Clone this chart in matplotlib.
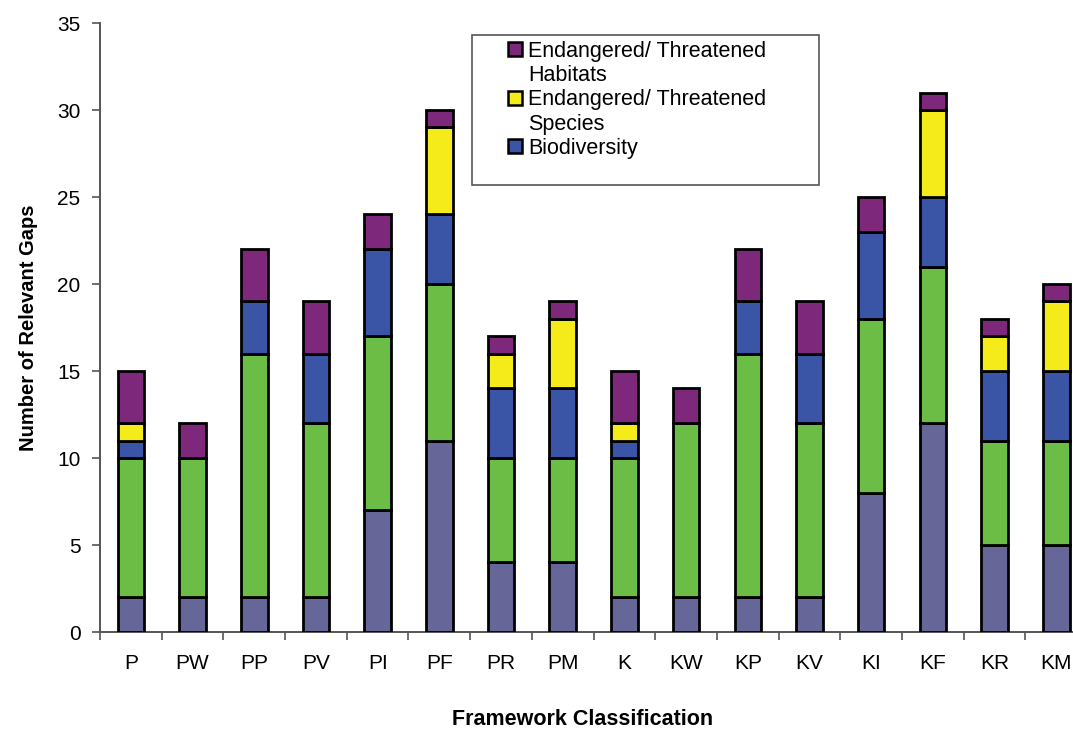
import matplotlib.pyplot as plt
import numpy as np
from matplotlib.patches import Patch, Rectangle

plt.rcParams["font.family"] = ["Liberation Sans", "DejaVu Sans"]

# framework categories
labels = ['P', 'PW', 'PP', 'PV', 'PI', 'PF', 'PR', 'PM',
          'K', 'KW', 'KP', 'KV', 'KI', 'KF', 'KR', 'KM']

# segment heights, bottom to top
base = [2, 2, 2, 2, 7, 11, 4, 4, 2, 2, 2, 2, 8, 12, 5, 5]
other = [8, 8, 14, 10, 10, 9, 6, 6, 8, 10, 14, 10, 10, 9, 6, 6]
biodiversity = [1, 0, 3, 4, 5, 4, 4, 4, 1, 0, 3, 4, 5, 4, 4, 4]
species = [1, 0, 0, 0, 0, 5, 2, 4, 1, 0, 0, 0, 0, 5, 2, 4]
habitats = [3, 2, 3, 3, 2, 1, 1, 1, 3, 2, 3, 3, 2, 1, 1, 1]

colors = ['#666699', '#6BBD45', '#3A55A6', '#F5EA1A', '#7D287A']
series = [base, other, biodiversity, species, habitats]

fig = plt.figure(figsize=(10.73, 7.31), dpi=100)
ax = fig.add_axes([0.0932, 0.1354, 0.92, 0.833])

x = np.arange(len(labels))
bottom = np.zeros(len(labels))
for vals, c in zip(series, colors):
    vals = np.array(vals)
    ax.bar(x, vals, width=0.43, bottom=bottom, color=c,
           edgecolor='black', linewidth=2.0, zorder=3)
    bottom += vals

ax.set_xlim(-0.5, len(labels) - 0.5)
ax.set_ylim(0, 35)
ax.set_yticks(range(0, 36, 5))
ax.set_xticks(x)
ax.set_xticklabels(labels)
ax.set_xticks(np.arange(-0.5, len(labels), 1), minor=True)
ax.tick_params(axis='x', which='major', length=0, pad=16, labelsize=15)
ax.tick_params(axis='x', which='minor', length=6, width=1.2, color='#555555')
ax.tick_params(axis='y', length=6, width=1.2, color='#555555', labelsize=15, pad=8)

for s in ['top', 'right']:
    ax.spines[s].set_visible(False)
for s in ['left', 'bottom']:
    ax.spines[s].set_color('#555555')
    ax.spines[s].set_linewidth(1.4)

ax.set_ylabel('Number of Relevant Gaps', fontsize=14.5, fontweight='bold', labelpad=14)
fig.text(0.543, 0.002, 'Framework Classification', fontsize=15.5,
         fontweight='bold', ha='center', va='bottom')

# legend box (only three entries shown in the original)
frame = Rectangle((0.377, 0.734), 0.351, 0.246, transform=ax.transAxes,
                  facecolor='white', edgecolor='#555555', linewidth=1.2, zorder=4)
ax.add_patch(frame)

def swatch(c):
    return Patch(facecolor=c, edgecolor='black', linewidth=1.8)

blank = Patch(facecolor='none', edgecolor='none')
handles = [swatch(colors[4]), blank, swatch(colors[3]), blank, swatch(colors[2])]
leg_labels = ['Endangered/ Threatened', 'Habitats',
              'Endangered/ Threatened', 'Species', 'Biodiversity']
leg = ax.legend(handles, leg_labels, loc='upper left',
                bbox_to_anchor=(0.405, 0.985), frameon=False, fontsize=15.5,
                handlelength=0.65, handleheight=0.65, handletextpad=0.25,
                labelspacing=0.15, borderaxespad=0)
leg.set_zorder(5)

fig.savefig('out.png', dpi=100)
